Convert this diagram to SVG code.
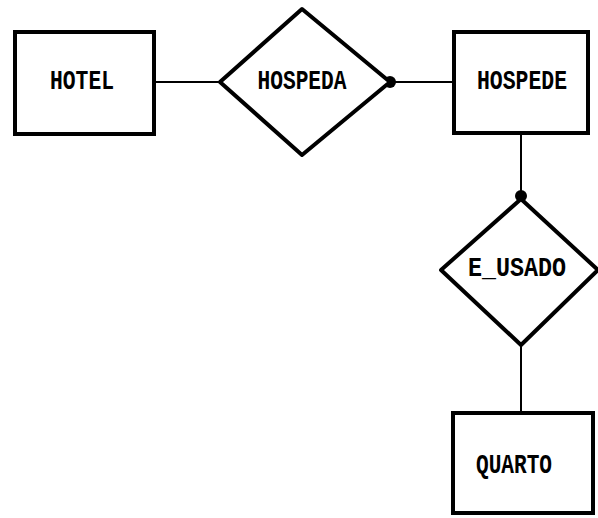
<svg xmlns="http://www.w3.org/2000/svg" width="598" height="518" viewBox="0 0 598 518">
<style>
.ent{fill:#fff;stroke:#000;stroke-width:4}
.rel{fill:#fff;stroke:#000;stroke-width:4;stroke-linejoin:round}
.lbl{font-family:"Liberation Mono","DejaVu Sans Mono",monospace;font-weight:bold;font-size:27px;fill:#000}
.con{stroke:#000;stroke-width:2;fill:none}
.dot{fill:#000}
</style>
<g id="connectors">
<line class="con" x1="154" y1="82" x2="220" y2="82"/>
<line class="con" x1="390" y1="82" x2="453" y2="82"/>
<line class="con" x1="521" y1="133" x2="521" y2="198"/>
<line class="con" x1="521" y1="345" x2="521" y2="413"/>
<circle class="dot" cx="390" cy="82" r="6"/>
<circle class="dot" cx="521" cy="196" r="6"/>
</g>
<g id="hotel">
<rect class="ent" x="15" y="32" width="139" height="102"/>
<text class="lbl" x="82" y="89" text-anchor="middle" textLength="64" lengthAdjust="spacingAndGlyphs">HOTEL</text>
</g>
<g id="hospeda">
<polygon class="rel" points="302,9 390,82 302,155 220,82"/>
<text class="lbl" x="302" y="89" text-anchor="middle" textLength="89" lengthAdjust="spacingAndGlyphs">HOSPEDA</text>
</g>
<g id="hospede">
<rect class="ent" x="454" y="32" width="134" height="101"/>
<text class="lbl" x="522" y="89" text-anchor="middle" textLength="90" lengthAdjust="spacingAndGlyphs">HOSPEDE</text>
</g>
<g id="e_usado">
<polygon class="rel" points="521,199 598,270 521,345 441,270"/>
<text class="lbl" x="517" y="276" text-anchor="middle" textLength="98" lengthAdjust="spacingAndGlyphs">E_USADO</text>
</g>
<g id="quarto">
<rect class="ent" x="453" y="413" width="140" height="100"/>
<text class="lbl" x="514" y="473" text-anchor="middle" textLength="76" lengthAdjust="spacingAndGlyphs">QUARTO</text>
</g>
</svg>
